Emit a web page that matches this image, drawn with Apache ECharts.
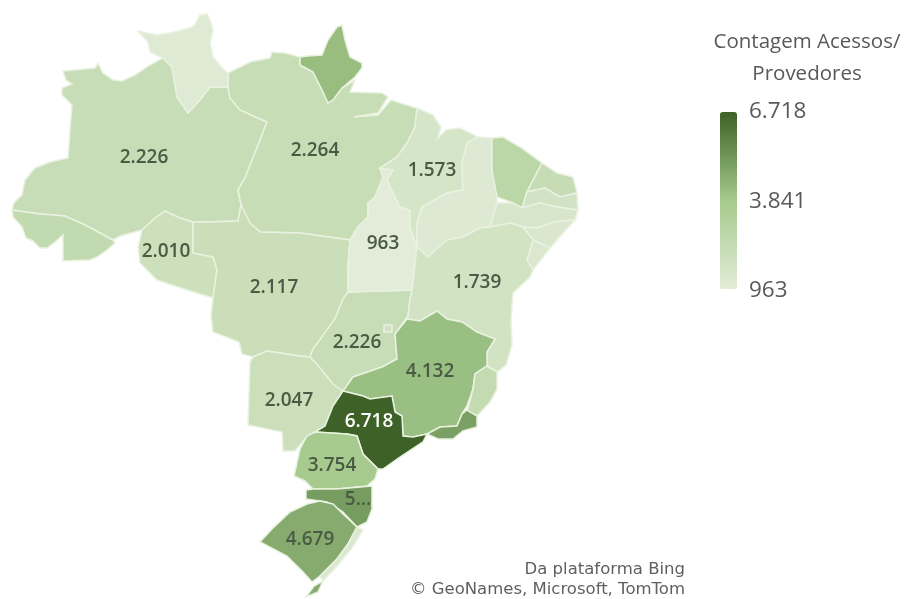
<!DOCTYPE html>
<html>
<head>
<meta charset="utf-8">
<title>Contagem Acessos/Provedores</title>
<script src="https://cdn.jsdelivr.net/npm/echarts@6/dist/echarts.min.js"></script>
<style>
  html, body { margin: 0; padding: 0; background: #fff; }
  #chart { width: 908px; height: 599px; }
</style>
</head>
<body>
<div id="chart"></div>
<script>
// dados por estado (os sem rotulo foram estimados pela cor)
const stateNames = ['AM', 'PA', 'RR', 'AP', 'AC', 'RO', 'MT', 'MS', 'GO', 'DF', 'TO', 'MA', 'PI', 'CE', 'RN', 'PB', 'PE', 'AL', 'SE', 'BA', 'MG', 'ES', 'RJ', 'SP', 'PR', 'SC', 'RS'];
const stateValues = [2226, 2264, 1100, 4200, 2480, 2010, 2117, 2047, 2226, 1800, 963, 1573, 1200, 2800, 2300, 1700, 1500, 1350, 1300, 1739, 4132, 2400, 5000, 6718, 3754, 5100, 4679];
const labelTexts = ['2.226', '2.264', null, null, null, '2.010', '2.117', '2.047', '2.226', null, '963', '1.573', null, null, null, null, null, null, null, '1.739', '4.132', null, null, '6.718', '3.754', '5...', '4.679'];

const legendTitle = ['Contagem Acessos/', 'Provedores'];
const legendTicks = ['6.718', '3.841', '963'];
const legendMin = 963;
const legendMax = 6718;
const legendColors = ['#e2ecd8', '#a5ca8c', '#3d6126'];
const creditLines = ['Da plataforma Bing', '© GeoNames, Microsoft, TomTom'];

// contornos dos estados, tracados em unidades do mapa (y para baixo)
const stateShapes = {
  AM: [[[63,71],[95,68],[98,63],[103,73],[113,80],[122,81],[135,75],[150,65],[163,58],[172,67],[177,97],[188,113],[200,100],[210,87],[228,87],[230,98],[240,110],[258,118],[267,122],[258,145],[245,178],[238,190],[241,205],[238,221],[205,222],[193,222],[180,218],[165,211],[155,218],[142,230],[120,236],[113,240],[85,225],[65,216],[40,214],[12,210],[14,203],[22,195],[25,180],[35,168],[50,162],[68,158],[70,130],[72,105],[62,95],[62,88],[72,84],[66,80]]],
  PA: [[[228,87],[228,73],[250,62],[270,58],[272,52],[285,53],[300,57],[300,65],[313,72],[322,90],[328,103],[333,100],[342,88],[355,80],[350,92],[382,93],[388,97],[378,113],[354,117],[378,115],[391,100],[413,107],[417,108],[415,127],[407,143],[397,157],[380,168],[383,177],[375,197],[368,203],[368,217],[358,227],[350,240],[300,233],[260,232],[250,223],[241,205],[238,190],[245,178],[258,145],[267,122],[258,118],[240,110],[230,98]]],
  RR: [[[138,31],[147,33],[157,35],[170,33],[190,28],[195,25],[200,15],[207,14],[210,20],[213,30],[210,43],[213,57],[222,68],[228,73],[228,87],[210,87],[200,100],[188,113],[177,97],[172,67],[163,58],[150,52],[148,42]]],
  AP: [[[300,57],[308,56],[322,55],[328,40],[337,27],[342,25],[345,40],[350,57],[362,63],[362,68],[355,77],[342,88],[333,100],[328,103],[322,90],[313,72],[300,65]]],
  AC: [[[12,210],[40,214],[65,216],[85,225],[113,240],[115,243],[107,250],[97,257],[90,260],[63,261],[63,235],[55,242],[47,248],[40,248],[33,241],[26,238],[22,227],[13,217]]],
  RO: [[[142,230],[155,218],[165,211],[180,218],[193,222],[193,253],[213,257],[217,270],[213,298],[187,290],[157,280],[140,263],[138,247]]],
  MT: [[[193,222],[205,222],[238,221],[241,205],[250,223],[260,232],[300,233],[350,240],[348,267],[348,292],[343,299],[335,319],[313,349],[310,357],[300,356],[267,351],[253,357],[242,354],[239,342],[213,332],[211,316],[213,298],[217,270],[213,257],[193,253]]],
  MS: [[[253,357],[267,351],[300,356],[310,357],[317,364],[333,384],[343,391],[333,406],[325,426],[315,432],[307,436],[295,451],[283,451],[282,432],[248,425],[250,362]]],
  GO: [[[348,292],[412,290],[410,299],[408,316],[395,334],[397,359],[382,367],[353,377],[343,391],[333,384],[317,364],[310,357],[313,349],[335,319],[343,299]]],
  DF: [[[384,325],[392,325],[392,332],[384,332]]],
  TO: [[[380,168],[393,170],[387,180],[395,197],[400,207],[410,210],[410,227],[417,247],[415,263],[412,290],[348,292],[348,267],[350,240],[358,227],[368,217],[368,203],[375,197],[383,177]]],
  MA: [[[417,108],[433,115],[441,127],[438,138],[446,130],[460,128],[478,137],[467,143],[462,163],[463,190],[447,193],[422,207],[417,223],[417,247],[410,227],[410,210],[400,207],[395,197],[387,180],[393,170],[380,168],[397,157],[407,143],[415,127]]],
  PI: [[[478,137],[492,138],[492,170],[497,197],[497,207],[490,227],[480,228],[463,237],[447,240],[428,257],[417,247],[417,223],[422,207],[447,193],[463,190],[462,163],[467,143]]],
  CE: [[[492,138],[503,137],[520,147],[542,163],[527,192],[522,208],[513,203],[497,197],[492,170]]],
  RN: [[[542,163],[557,173],[573,177],[577,193],[560,197],[545,188],[527,192]]],
  PB: [[[527,192],[545,188],[560,197],[577,193],[578,210],[557,207],[540,203],[522,208]]],
  PE: [[[497,203],[513,203],[522,208],[540,203],[557,207],[578,210],[575,220],[553,222],[537,228],[523,227],[510,223],[490,227]]],
  AL: [[[575,220],[563,233],[550,248],[533,240],[523,227],[537,228],[553,222]]],
  SE: [[[533,240],[550,248],[533,270],[527,260]]],
  BA: [[[417,247],[428,257],[447,240],[463,237],[480,228],[490,227],[510,223],[523,227],[533,240],[527,260],[533,270],[530,277],[513,293],[511,320],[512,345],[506,365],[497,372],[487,366],[487,352],[495,339],[477,332],[462,322],[447,319],[437,311],[420,321],[407,319],[408,316],[410,299],[412,290],[415,263]]],
  MG: [[[343,391],[353,377],[382,367],[397,359],[395,334],[407,319],[420,321],[437,311],[447,319],[462,322],[477,332],[495,339],[487,352],[487,366],[475,374],[473,389],[467,406],[462,414],[457,426],[440,427],[427,434],[413,437],[403,436],[402,416],[395,412],[392,396],[370,399],[363,396]]],
  ES: [[[487,366],[497,372],[497,389],[490,402],[477,416],[467,412],[473,389],[475,374]]],
  RJ: [[[467,410],[477,416],[477,427],[463,431],[453,439],[438,439],[427,434],[440,427],[457,426],[462,414]]],
  SP: [[[315,432],[325,426],[333,406],[343,391],[363,396],[370,399],[392,396],[395,412],[402,416],[403,436],[413,437],[427,434],[423,442],[400,457],[383,469],[378,469],[363,454],[357,436],[347,434]]],
  PR: [[[315,432],[347,434],[357,436],[363,454],[378,469],[375,479],[367,486],[337,489],[313,489],[305,481],[294,476],[300,449],[307,436]]],
  SC: [[[306,490],[313,489],[337,489],[372,486],[372,509],[367,522],[357,527],[343,512],[327,502],[306,499]]],
  RS: [[[320,501],[333,504],[343,514],[357,527],[348,544],[337,559],[320,576],[312,582],[303,572],[287,556],[260,542],[272,529],[290,512],[307,504]],
       [[306,597],[314,586],[323,581],[318,592]]],
  // faixa da lagoa no litoral do RS, sem valor proprio
  Lagoa: [[[357,527],[363,530],[352,548],[337,566],[323,581],[320,576],[337,559],[348,544]]]
};

// onde fica cada rotulo
const labelAnchors = {
  AM: [144, 158], PA: [315, 151], RO: [166, 252], MT: [274, 288], MS: [289, 401], GO: [357, 343],
  TO: [383, 244], MA: [432, 171], BA: [477, 283], MG: [430, 372], SP: [369, 422], PR: [332, 466],
  SC: [358, 500], RS: [310, 540]
};

const H = 599;
const flip = p => [p[0], H - p[1]];

const brazilGeo = {
  type: 'FeatureCollection',
  features: Object.keys(stateShapes).map(name => {
    const properties = { name };
    if (labelAnchors[name]) properties.cp = flip(labelAnchors[name]);
    return {
      type: 'Feature',
      properties,
      geometry: {
        type: 'MultiPolygon',
        coordinates: stateShapes[name].map(ring => {
          const pts = ring.map(flip);
          pts.push(pts[0]);
          return [pts];
        })
      }
    };
  })
};

echarts.registerMap('brasil', brazilGeo);

const textColor = '#595959';
const legendTitleY = [42, 74];
const legendTickY = [112, 202, 291];

const option = {
  backgroundColor: '#fff',
  animation: false,
  visualMap: {
    type: 'continuous',
    min: legendMin,
    max: legendMax,
    left: 705,
    top: 97,
    itemWidth: 17,
    itemHeight: 177,
    calculable: false,
    realtime: false,
    hoverLink: false,
    seriesIndex: 0,
    inRange: { color: legendColors }
  },
  series: [{
    type: 'map',
    map: 'brasil',
    roam: false,
    aspectScale: 1,
    left: 0,
    top: 0,
    width: 908,
    height: 599,
    boundingCoords: [[0, 599], [908, 0]],
    selectedMode: false,
    silent: true,
    label: { show: false },
    itemStyle: { areaColor: '#dbe8d0', borderColor: '#e9f2e0', borderWidth: 1.5 },
    data: stateNames.map((name, i) => ({
      name,
      value: stateValues[i],
      label: {
        show: labelTexts[i] !== null,
        formatter: labelTexts[i] || '',
        color: name === 'SP' ? '#ffffff' : '#4a5a44',
        fontFamily: 'Open Sans',
        fontWeight: 600,
        fontSize: 19
      }
    }))
  }],
  graphic: [
    ...legendTitle.map((t, i) => ({
      type: 'text',
      style: { text: t, fill: textColor, font: '20.5px "Open Sans"', textAlign: 'center', textVerticalAlign: 'middle', x: 807, y: legendTitleY[i] },
      silent: true
    })),
    ...legendTicks.map((t, i) => ({
      type: 'text',
      style: { text: t, fill: textColor, font: '22.5px "Open Sans"', textAlign: 'left', textVerticalAlign: 'middle', x: 749, y: legendTickY[i] },
      silent: true
    })),
    ...creditLines.map((t, i) => ({
      type: 'text',
      style: { text: t, fill: '#5f5f5f', font: '16.5px "DejaVu Sans"', textAlign: 'right', textVerticalAlign: 'middle', x: 685, y: 570 + i * 20 },
      silent: true
    }))
  ]
};

const myChart = echarts.init(document.getElementById('chart'), null, { renderer: 'canvas' });
myChart.setOption(option);
</script>
</body>
</html>
